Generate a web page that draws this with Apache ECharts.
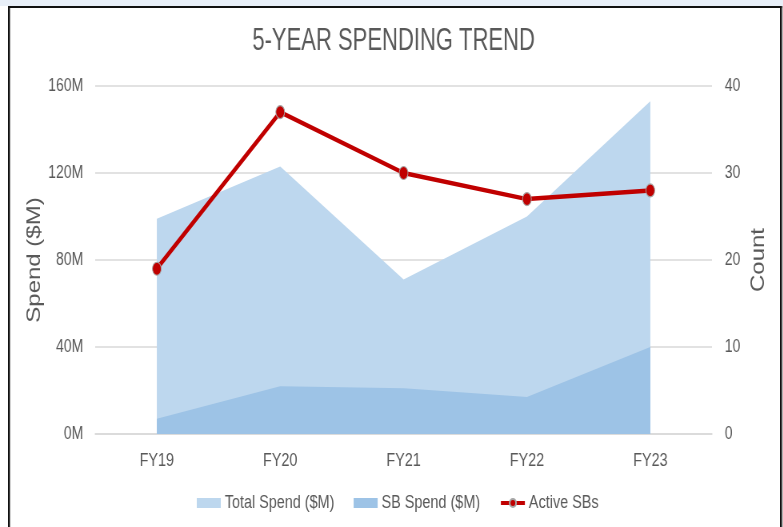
<!DOCTYPE html>
<html>
<head>
<meta charset="utf-8">
<style>
  html, body { margin: 0; padding: 0; background: #ffffff; overflow: hidden; }
  /* the chart is laid out wide and squeezed to the window width */
  #chart { width: 979px; height: 527px; transform: scaleX(0.8); transform-origin: 0 0; }
</style>
<script src="https://cdn.jsdelivr.net/npm/echarts@6/dist/echarts.min.js"></script>
</head>
<body>
<div id="chart"></div>
<script>
// Fiscal years on the category axis
const years = ['FY19', 'FY20', 'FY21', 'FY22', 'FY23'];
// Spending in millions of dollars
const totalSpend = [99, 123, 71, 100, 153];
const sbSpend = [7, 22, 21, 17, 40];
// Number of active small businesses
const activeSBs = [19, 37, 30, 27, 28];
// Tick ranges for the two value axes
const spendTicks = { min: 0, max: 160, interval: 40 };
const countTicks = { min: 0, max: 40, interval: 10 };

const font = "'Liberation Sans', Arial, sans-serif";
const grey = '#595959';
const W = 979;

const chart = echarts.init(document.getElementById('chart'), null, { renderer: 'canvas' });

chart.setOption({
  animation: false,
  backgroundColor: '#ffffff',
  graphic: [
    // window strip above the frame
    { type: 'rect', shape: { x: 0, y: 0, width: W, height: 6 }, style: { fill: '#E8EFF8' }, silent: true },
    // frame edges
    { type: 'rect', shape: { x: 10, y: 6, width: 968, height: 2 }, style: { fill: '#111111' }, silent: true },
    { type: 'rect', shape: { x: 10, y: 6, width: 2.5, height: 521 }, style: { fill: '#111111' }, silent: true },
    { type: 'rect', shape: { x: 975, y: 6, width: 2.5, height: 521 }, style: { fill: '#111111' }, silent: true },
    { type: 'rect', shape: { x: 977.5, y: 6, width: 1.5, height: 521 }, style: { fill: '#BBBBBB' }, silent: true },
    // chart title
    {
      type: 'text',
      x: 492, y: 41,
      scaleX: 0.86,
      style: {
        text: '5-YEAR SPENDING TREND',
        font: "32px " + font,
        fill: grey,
        align: 'center',
        verticalAlign: 'middle'
      },
      silent: true
    }
  ],
  legend: {
    bottom: 10,
    left: 241,
    itemGap: 24,
    itemWidth: 30,
    itemHeight: 10,
    textStyle: { fontFamily: font, fontSize: 18, color: grey },
    data: [
      { name: 'Total Spend ($M)', icon: 'rect' },
      { name: 'SB Spend ($M)', icon: 'rect' },
      { name: 'Active SBs', lineStyle: { width: 4 } }
    ]
  },
  grid: { left: 119, right: 89, top: 86, bottom: 93, containLabel: false },
  xAxis: {
    type: 'category',
    data: years,
    boundaryGap: true,
    axisLine: { show: true, lineStyle: { color: '#D9D9D9', width: 1.5 } },
    axisTick: { show: false },
    axisLabel: { fontFamily: font, fontSize: 18, color: grey, margin: 18 }
  },
  yAxis: [
    {
      type: 'value',
      min: spendTicks.min, max: spendTicks.max, interval: spendTicks.interval,
      name: 'Spend ($M)',
      nameLocation: 'middle',
      nameRotate: 90,
      nameGap: 64,
      nameMoveOverlap: false,
      nameTextStyle: { fontFamily: font, fontSize: 24, color: grey },
      axisLine: { show: false },
      axisTick: { show: false },
      axisLabel: { fontFamily: font, fontSize: 17.5, color: grey, margin: 15, formatter: v => v + 'M' },
      splitLine: { lineStyle: { color: '#D9D9D9', width: 1.5 } }
    },
    {
      type: 'value',
      position: 'right',
      min: countTicks.min, max: countTicks.max, interval: countTicks.interval,
      name: 'Count',
      nameLocation: 'middle',
      nameRotate: 90,
      nameGap: 46,
      nameMoveOverlap: false,
      nameTextStyle: { fontFamily: font, fontSize: 24, color: grey },
      axisLine: { show: false },
      axisTick: { show: false },
      axisLabel: { fontFamily: font, fontSize: 17.5, color: grey, margin: 16 },
      splitLine: { show: false }
    }
  ],
  series: [
    {
      name: 'Total Spend ($M)',
      type: 'line',
      data: totalSpend,
      yAxisIndex: 0,
      symbol: 'none',
      lineStyle: { width: 0, color: '#BDD7EE' },
      itemStyle: { color: '#BDD7EE' },
      areaStyle: { color: '#BDD7EE', opacity: 1 },
      z: 1
    },
    {
      name: 'SB Spend ($M)',
      type: 'line',
      data: sbSpend,
      yAxisIndex: 0,
      symbol: 'none',
      lineStyle: { width: 0, color: '#9DC3E6' },
      itemStyle: { color: '#9DC3E6' },
      areaStyle: { color: '#9DC3E6', opacity: 1 },
      z: 2
    },
    {
      name: 'Active SBs',
      type: 'line',
      data: activeSBs,
      yAxisIndex: 1,
      symbol: 'circle',
      symbolSize: [11, 13],
      showSymbol: true,
      lineStyle: { width: 4.5, color: '#C00000' },
      itemStyle: { color: '#C00000', borderColor: '#A6A6A6', borderWidth: 1 },
      z: 3
    }
  ]
});
</script>
</body>
</html>
